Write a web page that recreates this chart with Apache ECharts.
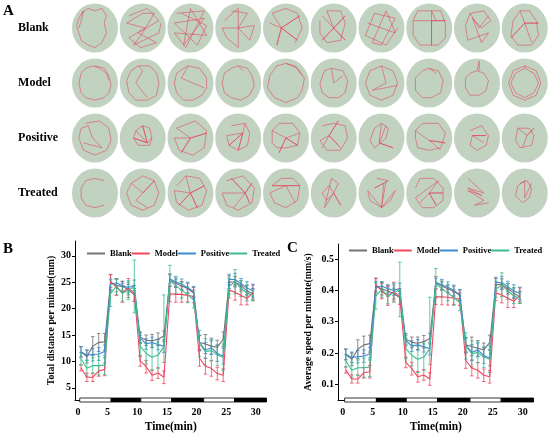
<!DOCTYPE html>
<html><head><meta charset="utf-8">
<script src="https://cdn.jsdelivr.net/npm/echarts@6/dist/echarts.min.js"></script>
<style>html,body{margin:0;padding:0;background:#fff}#c{width:550px;height:435px}</style>
</head><body><div id="c"></div><script>
// ---------- DATA ----------
const groups = ['Blank', 'Model', 'Positive', 'Treated'];
const times = [0.5,1.5,2.5,3.5,4.5,5.5,6.5,7.5,8.5,9.5,10.5,11.5,12.5,13.5,14.5,15.5,16.5,17.5,18.5,19.5,20.5,21.5,22.5,23.5,24.5,25.5,26.5,27.5,28.5,29.5];
const timeTicks = [0, 5, 10, 15, 20, 25, 30];
const distTicks = [5, 10, 15, 20, 25, 30];
const speedTicks = [0.1, 0.2, 0.3, 0.4, 0.5];
// light / dark periods: [start, end, dark?]
const lightDark = [[0.3,5.6,0],[5.6,10.6,1],[10.6,15.8,0],[15.8,21.2,1],[21.2,26.4,0],[26.4,31.8,1]];

// Panel B: total distance per minute (mm)
const blankB    = [11.8,10.9,12.9,13.6,13.7, 24.9,24.4,24.2,23.6,22.6, 14.6,14.0,13.9,14.2,14.8, 25.4,24.8,24.3,23.8,23.0, 13.6,13.3,12.9,12.7,14.2, 25.0,25.1,24.3,23.4,22.8];
const modelB    = [8.8,7.0,7.0,8.2,8.5, 25.2,24.0,23.0,23.9,22.9, 10.1,9.0,7.4,7.8,7.0, 22.8,22.7,22.7,22.5,22.3, 10.6,9.1,8.7,7.7,7.4, 23.5,23.1,22.5,21.9,23.0];
const positiveB = [11.8,11.2,11.3,11.4,11.9, 24.6,24.9,24.3,24.0,24.4, 14.4,13.3,13.6,13.2,12.9, 25.6,25.1,24.6,24.0,23.2, 13.5,12.1,12.6,11.5,11.0, 25.5,25.5,24.7,23.9,23.4];
const treatedB  = [10.5,8.7,9.2,9.2,9.3, 22.9,24.2,22.9,23.5,24.2, 12.9,11.5,10.8,11.2,12.8, 25.4,24.3,23.5,22.6,21.6, 13.4,11.8,12.1,11.2,10.8, 24.2,25.1,23.8,23.0,22.5];
const blankErrB    = [1.0,1.2,1.8,1.7,1.6, 1.6,1.2,1.0,1.0,1.2, 1.0,1.0,1.2,1.2,1.0, 1.2,0.8,0.8,1.0,1.0, 1.3,1.8,1.5,1.3,1.4, 1.2,1.0,1.0,1.0,1.0];
const modelErrB    = [0.6,0.8,0.8,1.0,1.2, 1.2,1.5,1.8,1.8,1.5, 1.0,1.2,1.0,1.0,1.2, 1.5,1.5,1.5,1.2,1.2, 1.5,1.5,1.5,1.2,1.2, 1.5,1.5,1.8,1.2,1.5];
const positiveErrB = [1.0,1.0,1.2,1.2,1.2, 1.0,0.8,0.8,1.0,1.0, 1.0,1.0,1.0,1.0,1.2, 0.8,1.0,1.0,1.0,1.0, 1.5,1.5,1.3,1.5,1.5, 1.0,1.2,1.0,1.2,1.2];
const treatedErrB  = [1.2,1.5,1.5,1.8,1.8, 2.5,1.5,1.5,1.8,5.0, 2.0,2.0,2.5,2.5,[3.0,9.8], 2.8,1.5,1.5,1.5,1.5, 2.5,2.5,2.0,2.0,2.5, 1.5,2.3,1.5,1.5,1.0];

// Panel C: average speed per minute (mm/s)
const blankC    = [0.195,0.180,0.212,0.226,0.230, 0.412,0.405,0.398,0.390,0.376, 0.245,0.234,0.231,0.236,0.246, 0.424,0.414,0.405,0.396,0.384, 0.226,0.221,0.215,0.210,0.234, 0.418,0.420,0.405,0.391,0.380];
const modelC    = [0.146,0.117,0.117,0.137,0.140, 0.418,0.398,0.382,0.396,0.380, 0.170,0.150,0.124,0.130,0.117, 0.380,0.379,0.378,0.375,0.372, 0.176,0.152,0.145,0.129,0.124, 0.392,0.385,0.375,0.365,0.383];
const positiveC = [0.196,0.186,0.188,0.190,0.198, 0.410,0.414,0.405,0.400,0.406, 0.240,0.222,0.226,0.220,0.214, 0.426,0.418,0.410,0.400,0.386, 0.225,0.202,0.210,0.192,0.184, 0.425,0.425,0.412,0.398,0.390];
const treatedC  = [0.175,0.145,0.153,0.153,0.155, 0.382,0.403,0.382,0.392,0.403, 0.215,0.192,0.180,0.187,0.213, 0.423,0.405,0.392,0.377,0.360, 0.223,0.197,0.202,0.187,0.180, 0.403,0.418,0.397,0.383,0.375];
const blankErrC    = [0.017,0.020,0.030,0.028,0.027, 0.027,0.020,0.017,0.017,0.020, 0.017,0.017,0.020,0.020,0.017, 0.020,0.013,0.013,0.017,0.017, 0.022,0.030,0.025,0.022,0.023, 0.020,0.017,0.017,0.017,0.017];
const modelErrC    = [0.010,0.013,0.013,0.017,0.020, 0.020,0.025,0.030,0.030,0.025, 0.017,0.020,0.017,0.017,0.020, 0.025,0.025,0.025,0.020,0.020, 0.025,0.025,0.025,0.020,0.020, 0.025,0.025,0.030,0.020,0.025];
const positiveErrC = [0.017,0.017,0.020,0.020,0.020, 0.017,0.013,0.013,0.017,0.017, 0.017,0.017,0.017,0.017,0.020, 0.013,0.017,0.017,0.017,0.017, 0.025,0.025,0.022,0.025,0.025, 0.017,0.020,0.017,0.020,0.020];
const treatedErrC  = [0.020,0.025,0.025,0.030,0.030, 0.042,0.025,0.025,0.030,0.087, 0.033,0.033,0.042,0.042,[0.05,0.165], 0.047,0.025,0.025,0.025,0.025, 0.042,0.042,0.033,0.033,0.042, 0.025,0.038,0.025,0.025,0.017];

// Panel A: swimming tracks per well, [dx,dy,...] in tenths of the well radius
const tracksBlank = [
 [-6,-6,-3,-8,0,-7,3,-8,5,-5,4,-2,5,2,3,6,0,8,-3,7,-6,5,-7,2,-8,-1,-7,-4,-5,-7,-6,-3,-7,0],
 [-6,-5,2,-8,7,-3,-2,2,6,6,-1,8,-6,4,1,0,-7,-2,0,-6,5,-6,0,2,-4,7,7,2,8,-2],
 [-6,-6,6,-7,-2,8,-7,2,7,3,0,-8,-3,7,6,-4,-7,-2,3,7,7,-1,-4,-6],
 [-6,-3,0,-8,0,8,-5,4,-7,0,0,0,7,-1,5,5,0,0,4,-6,-3,-7],
 [-7,-2,-2,0,6,-5,-2,0,5,5,-2,0,-4,7,-2,0,-6,-6,0,-8,5,-6,7,0,4,6],
 [-5,-5,5,5,0,0,5,-5,-5,5,0,0,-3,-7,3,-7,5,-2,3,5,-3,6,-6,2,-6,-3],
 [-6,-2,6,2,2,-7,-4,6,0,7,6,-4,-3,-6,-7,3,2,7,7,0],
 [-7,-3,-5,-7,5,-7,7,-2,7,4,4,7,-4,7,-7,3,-7,-3,7,-3,1,-3,1,7,1,-7,3,-3],
 [-3,-6,3,-7,6,-3,2,0,-2,-4,2,6,5,2,-4,5,-5,-1,-3,-6,1,0,5,-5],
 [-2,-7,2,-7,5,-3,6,3,3,7,-3,7,-6,3,-5,-3,-2,-7,0,-2,6,-2,0,-2,-6,4,0,-2,3,6]
];
const tracksModel = [
 [0,-7,4,-6,6,-3,7,1,6,4,4,6,0,7,-4,6,-6,4,-7,0,-6,-4,-4,-6,-1,-7,2,-6,5,-4,6,-1],
 [-2,-7,3,-7,6,-4,7,0,6,5,2,7,-3,7,-6,4,-7,-1,-5,-5,-2,-7,0,-5,-3,0,2,6],
 [-1,-7,4,-6,7,-2,7,2,5,5,1,7,-3,7,-6,4,-7,0,-6,-4,-3,-6,-1,-7,-4,-2,6,2],
 [0,-7,4,-6,6,-3,7,1,5,5,1,7,-3,6,-6,4,-7,0,-6,-4,-3,-6,0,-7,2,-5],
 [0,-8,5,-6,8,-2,7,3,5,6,0,8,-5,6,-8,2,-7,-3,-4,-7,0,-8,4,-7,7,-3],
 [-1,-6,4,-5,6,-1,5,4,2,6,-2,6,-5,4,-6,0,-4,-5,-1,-6,0,0,4,-3],
 [0,-7,5,-5,7,0,5,5,0,7,-5,5,-7,0,-5,-5,0,-7,2,0,-4,3,7,1],
 [0,-6,4,-5,6,-1,5,4,1,6,-3,6,-6,3,-6,-2,-3,-5,0,-6,3,-4],
 [0,-5,3,-4,5,-1,4,3,1,5,-3,5,-5,2,-5,-2,-3,-4,0,-5,1,-9,1,-5],
 [0,-7,5,-5,7,0,5,5,0,7,-5,5,-7,0,-5,-5,0,-7,0,-6,4,-4,6,0,4,4,0,6,-4,4,-6,0,-4,-4,0,-6]
];
const tracksPositive = [
 [-4,-6,2,-7,6,-4,7,1,5,5,0,7,-5,5,-7,0,-6,-4,-3,-5,-1,0,3,4,-5,2],
 [-3,-3,0,-5,3,-4,4,0,3,3,-2,3,-4,0,-3,-3,2,2,0,-5,2,2,-4,0,2,2,4,0],
 [-6,-4,2,-7,7,-3,6,4,1,7,-5,5,-7,0,0,0,7,-2,0,0,-4,6,0,0,-6,-4],
 [-3,-5,3,-6,5,-2,4,3,0,5,-4,3,-5,-1,2,-2,-4,3,2,-2,0,5,2,-2,3,-6],
 [-6,-3,-3,-6,3,-6,6,-2,5,3,0,4,-4,4,-6,2,-6,-3,0,0,5,3,0,0,-3,6,0,0,6,-2],
 [-5,-5,0,-6,5,-5,6,0,3,5,-3,5,-6,1,-2,-1,2,-7,-2,-1,3,4,-2,-1,-5,4],
 [0,-6,3,-4,2,0,-3,4,-5,1,-3,-4,0,-6,-1,2,5,4,-1,2,2,-5],
 [-6,-3,-3,-6,4,-6,7,-2,5,4,0,5,-5,4,-6,0,-6,-3,0,1,7,2,0,1,5,5],
 [-3,-3,2,-5,5,-1,4,3,0,5,-3,3,-2,-1,4,-1,-2,-1,3,2],
 [-3,-4,2,-4,4,-1,3,3,-2,4,-4,1,-3,-4,1,-1,4,-4,1,-1,-1,4]
];
const tracksTreated = [
 [4,-5,0,-6,-4,-5,-6,-2,-6,2,-4,5,0,6,4,5],
 [-5,-4,0,-7,5,-5,7,0,5,5,0,7,-5,5,-7,0,-5,-4,0,0,5,-5,-3,3,2,6],
 [-6,-3,-2,-7,4,-6,7,-1,5,5,-1,7,-6,4,-7,-1,0,0,6,-3,0,0,3,6,0,0,-5,5,0,0,-2,-7],
 [-5,-5,2,-7,7,-2,6,4,0,7,-5,5,-7,0,3,0,-3,-6,3,0,6,-4,3,0,5,4,3,0,-2,6],
 [-6,-3,-2,-6,3,-6,6,-3,-6,-3,0,-3,6,-3,5,3,0,6,-5,4,-7,0,0,-3,4,4],
 [-1,-6,2,-4,0,0,-3,3,-5,0,-2,-3,0,0,3,5,0,0,-4,6,-1,-6],
 [-2,-6,3,-5,-3,-2,1,-4,0,6,-5,3,-6,-1,0,6,4,3,6,-1,0,6,2,-5],
 [-6,-2,-4,-6,2,-6,6,-2,6,3,2,6,-3,6,-6,2,4,-5,0,0,6,0,0,0,3,5,0,0,-4,4],
 [-4,-6,3,0,-4,-2,2,1,-4,-1,3,3,-1,5,5,4],
 [-2,-4,1,-5,3,-2,2,2,-1,4,-4,1,-3,-3,0,-5,0,2,3,-4]
];

// ---------- STYLE / LAYOUT ----------
const FONT = 'Liberation Serif';
const colors = ['#727272', '#f0465e', '#3d8bcb', '#3dbc8e'];
const KX = 0.0482, KY = 0.0445; // track unit -> axis unit in panel A
const B_YMIN = 2.7, C_YMIN = 0.05;

const series = [];
// Panel A wells
const wells = [];
for (let r = 0; r < 4; r++) for (let c = 0; c < 10; c++) wells.push([c, r]);
series.push({type: 'scatter', xAxisIndex: 0, yAxisIndex: 0, symbol: 'circle', symbolSize: [46, 49],
  itemStyle: {color: '#b1c7b2'}, data: wells, silent: true, z: 1});
const trackRows = [tracksBlank, tracksModel, tracksPositive, tracksTreated];
const trackData = [];
trackRows.forEach((row, r) => row.forEach((tr, c) => {
  const coords = [];
  for (let i = 0; i < tr.length; i += 2) coords.push([c + tr[i] * KX, r + tr[i + 1] * KY]);
  trackData.push({coords});
}));
series.push({type: 'lines', coordinateSystem: 'cartesian2d', xAxisIndex: 0, yAxisIndex: 0, polyline: true,
  lineStyle: {color: '#e8334c', width: 0.6, opacity: 0.85}, data: trackData, silent: true, z: 2});

function errSeries(gi, vals, errs, color) {
  return {
    type: 'custom', xAxisIndex: gi, yAxisIndex: gi, silent: true, z: 2,
    data: times.map((t, i) => {
      const e = errs[i];
      const lo = Array.isArray(e) ? e[0] : e, hi = Array.isArray(e) ? e[1] : e;
      return [t, vals[i], lo, hi];
    }),
    encode: {x: 0, y: 1},
    renderItem: (p, api) => {
      const t = api.value(0), v = api.value(1), lo = api.value(2), hi = api.value(3);
      const a = api.coord([t, v + hi]), b = api.coord([t, v - lo]);
      const x = a[0], w = 1.8, st = {stroke: color, lineWidth: 0.8};
      return {type: 'group', children: [
        {type: 'line', shape: {x1: x, y1: a[1], x2: x, y2: b[1]}, style: st},
        {type: 'line', shape: {x1: x - w, y1: a[1], x2: x + w, y2: a[1]}, style: st},
        {type: 'line', shape: {x1: x - w, y1: b[1], x2: x + w, y2: b[1]}, style: st}
      ]};
    }
  };
}
function panel(gi, valsList, errsList, ymin) {
  valsList.forEach((vals, k) => {
    series.push(errSeries(gi, vals, errsList[k], colors[k]));
    series.push({type: 'line', name: groups[k], xAxisIndex: gi, yAxisIndex: gi, symbol: 'none',
      data: times.map((t, i) => [t, vals[i]]), lineStyle: {color: colors[k], width: 1.1},
      itemStyle: {color: colors[k]}, z: 3, silent: true});
  });
  series.push({type: 'custom', xAxisIndex: gi, yAxisIndex: gi, silent: true, z: 10, clip: false,
    data: lightDark, encode: {x: [0, 1]},
    renderItem: (p, api) => {
      const a = api.coord([api.value(0), ymin]), b = api.coord([api.value(1), ymin]);
      return {type: 'rect', shape: {x: a[0], y: a[1] - 2, width: b[0] - a[0], height: 4},
        style: {fill: api.value(2) ? '#000' : '#fff', stroke: '#000', lineWidth: 0.8}};
    }});
}
panel(1, [blankB, modelB, positiveB, treatedB], [blankErrB, modelErrB, positiveErrB, treatedErrB], B_YMIN);
panel(2, [blankC, modelC, positiveC, treatedC], [blankErrC, modelErrC, positiveErrC, treatedErrC], C_YMIN);

const lbl = {fontFamily: FONT, fontWeight: 'bold', color: '#000'};
function xAx(gi, min, max) {
  return {gridIndex: gi, type: 'value', min, max,
    axisLine: {show: true, onZero: false, lineStyle: {color: '#000', width: 1}},
    axisTick: {show: false}, splitLine: {show: false},
    axisLabel: Object.assign({customValues: timeTicks, fontSize: 10, margin: 7}, lbl),
    name: 'Time(min)', nameLocation: 'middle', nameGap: 21,
    nameTextStyle: Object.assign({fontSize: 11.5}, lbl)};
}
function yAx(gi, min, max, ticks, name, gap, fmt) {
  return {gridIndex: gi, type: 'value', min, max,
    axisLine: {show: true, onZero: false, lineStyle: {color: '#000', width: 1}},
    axisTick: {show: true, customValues: ticks, length: 3, lineStyle: {color: '#000'}},
    splitLine: {show: false},
    axisLabel: Object.assign({customValues: ticks, fontSize: 10, margin: 4, formatter: fmt}, lbl),
    name, nameLocation: 'middle', nameGap: gap,
    nameTextStyle: Object.assign({fontSize: 9.8}, lbl)};
}
function legendAt(left, top) {
  return {data: groups, left, top, padding: 0, width: 260, icon: 'rect', itemWidth: 18, itemHeight: 2,
    itemGap: 0, textStyle: Object.assign({fontSize: 8.5}, lbl), selectedMode: false};
}

const option = {
  animation: false,
  backgroundColor: '#fff',
  grid: [
    {left: 71.1, top: 0.5, width: 477.5, height: 220},
    {left: 75, top: 241, width: 191.5, height: 159},
    {left: 338, top: 244, width: 195.6, height: 156}
  ],
  xAxis: [
    {gridIndex: 0, type: 'value', min: -0.5, max: 9.5, show: false},
    xAx(1, -0.5, 31.8),
    xAx(2, -0.8, 31.8)
  ],
  yAxis: [
    {gridIndex: 0, type: 'value', min: -0.5, max: 3.5, inverse: true,
     axisLine: {show: false}, axisTick: {show: false}, splitLine: {show: false},
     axisLabel: Object.assign({customValues: [0, 1, 2, 3], formatter: v => groups[Math.round(v)],
       align: 'left', margin: 53, fontSize: 12}, lbl)},
    yAx(1, B_YMIN, 32.8, distTicks, 'Total distance per minute(mm)', 19, v => String(v)),
    yAx(2, C_YMIN, 0.548, speedTicks, 'Average speed per minute(mm/s)', 25, v => v.toFixed(1))
  ],
  legend: [legendAt(87, 249), legendAt(349, 246)],
  graphic: [
    {type: 'text', left: 3, top: 4, style: {text: 'A', fill: '#000', fontSize: 15, fontWeight: 'bold', fontFamily: FONT}},
    {type: 'text', left: 3, top: 242, style: {text: 'B', fill: '#000', fontSize: 15, fontWeight: 'bold', fontFamily: FONT}},
    {type: 'text', left: 287, top: 241, style: {text: 'C', fill: '#000', fontSize: 15, fontWeight: 'bold', fontFamily: FONT}}
  ],
  series
};
const chart = echarts.init(document.getElementById('c'));
chart.setOption(option);
</script></body></html>
